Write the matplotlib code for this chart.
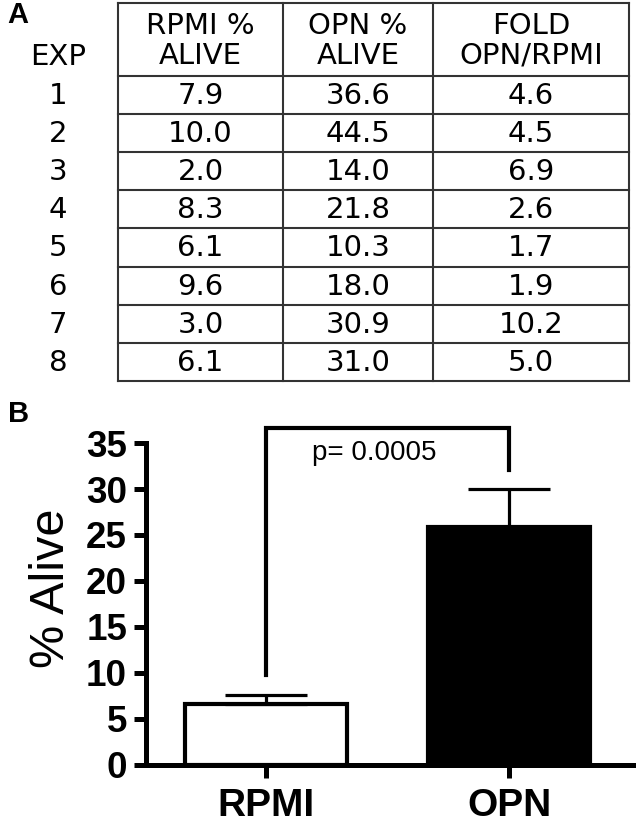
import matplotlib
matplotlib.use("Agg")
import matplotlib.pyplot as plt
import numpy as np

# ---- Data ----
exp_ids = ["1", "2", "3", "4", "5", "6", "7", "8"]
rpmi_alive = ["7.9", "10.0", "2.0", "8.3", "6.1", "9.6", "3.0", "6.1"]
opn_alive = ["36.6", "44.5", "14.0", "21.8", "10.3", "18.0", "30.9", "31.0"]
fold_change = ["4.6", "4.5", "6.9", "2.6", "1.7", "1.9", "10.2", "5.0"]
header_labels = ["RPMI %\nALIVE", "OPN %\nALIVE", "FOLD\nOPN/RPMI"]

groups = ["RPMI", "OPN"]
group_means = [6.6, 25.9]
group_sem = [1.0, 4.1]
p_text = "p= 0.0005"

W, H, DPI = 640, 827, 100
fig = plt.figure(figsize=(W / DPI, H / DPI), dpi=DPI)

# ---- Panel A: table ----
tax = fig.add_axes([0, 0, 1, 1])
tax.set_xlim(0, W)
tax.set_ylim(H, 0)
tax.axis("off")

tfont = "DejaVu Sans"
tsize = 21
line_col = "#333333"
col_edges = [118, 283, 433, 629]
top, head_bot, row_h = 3, 76, 38.1
n_rows = len(exp_ids)
row_edges = [top, head_bot] + [head_bot + row_h * (i + 1) for i in range(n_rows)]
for y in row_edges:
    tax.plot([col_edges[0], col_edges[-1]], [y, y], color=line_col, lw=1.5,
             solid_capstyle="projecting")
for x in col_edges:
    tax.plot([x, x], [row_edges[0], row_edges[-1]], color=line_col, lw=1.5,
             solid_capstyle="projecting")

col_centers = [(col_edges[i] + col_edges[i + 1]) / 2 for i in range(3)]
exp_x = 58
for cx, lab in zip(col_centers, header_labels):
    tax.text(cx, 41, lab, ha="center", va="center", fontsize=tsize,
             family=tfont, linespacing=1.08)
tax.text(exp_x, 57, "EXP", ha="center", va="center", fontsize=tsize, family=tfont)

columns = [rpmi_alive, opn_alive, fold_change]
for i in range(n_rows):
    yc = head_bot + row_h * (i + 0.5) + 1
    tax.text(exp_x, yc, exp_ids[i], ha="center", va="center", fontsize=tsize, family=tfont)
    for cx, col in zip(col_centers, columns):
        tax.text(cx, yc, col[i], ha="center", va="center", fontsize=tsize, family=tfont)

tax.text(7, 15, "A", ha="left", va="center", fontsize=21, fontweight="bold",
         family="Liberation Sans")
tax.text(8, 414, "B", ha="left", va="center", fontsize=21, fontweight="bold",
         family="Liberation Sans")

# ---- Panel B: bar chart ----
ax_l, ax_r, ax_b, ax_t = 146, 633, 765, 443
ax = fig.add_axes([ax_l / W, 1 - ax_b / H, (ax_r - ax_l) / W, (ax_b - ax_t) / H])
x = np.arange(len(groups))
ax.bar(x, group_means, width=0.667, color=["white", "black"], edgecolor="black",
       linewidth=3, zorder=2)
ax.errorbar(x, group_means, yerr=[[0, 0], group_sem], fmt="none", ecolor="black",
            elinewidth=2.3, capsize=29.5, capthick=2.3, zorder=3)
ax.set_xlim(-0.494, 1.51)
ax.set_ylim(0, 35)
ax.set_yticks(np.arange(0, 36, 5))
ax.set_xticks(x)
ax.set_xticklabels(groups)
for s in ["top", "right"]:
    ax.spines[s].set_visible(False)
for s in ["left", "bottom"]:
    ax.spines[s].set_linewidth(3.6)
ax.tick_params(axis="y", length=8.6, width=3.6, pad=5, labelsize=26.5)
ax.tick_params(axis="x", length=9, width=3.6, pad=7.5, labelsize=28)
for lab in ax.get_yticklabels() + ax.get_xticklabels():
    lab.set_fontweight("bold")
    lab.set_family("Liberation Sans")

fig.text(51 / W, 1 - 588 / H, "% Alive", rotation=90, ha="center", va="center",
         fontsize=35, family="Liberation Sans")

# significance bracket
y_left_low = 9.8
y_top = 36.6
y_right_low = 32.1
ax.plot([0, 0, 1, 1], [y_left_low, y_top, y_top, y_right_low], color="black",
        lw=3, clip_on=False, solid_joinstyle="miter", zorder=4)
ax.text(0.445, 33.9, p_text, ha="center", va="center", fontsize=20,
        family="Liberation Sans")

fig.savefig("out.png", dpi=DPI)
